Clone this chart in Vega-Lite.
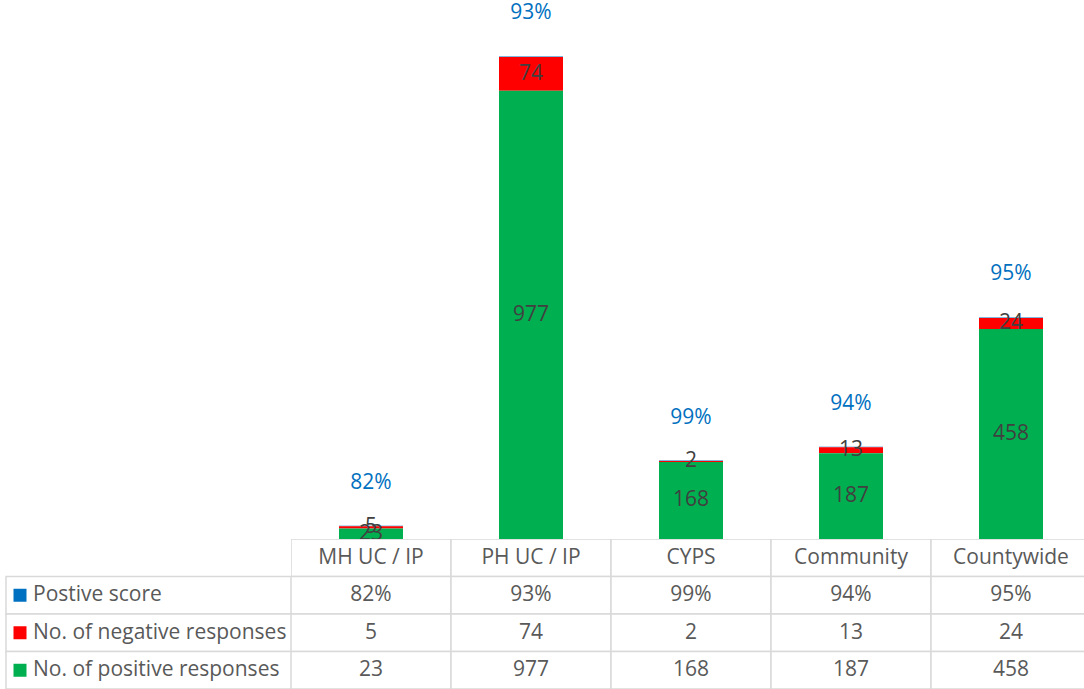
{
  "$schema": "https://vega.github.io/schema/vega-lite/v6.json",
  "padding": {"left": 5, "top": 0, "right": 0, "bottom": 0},
  "background": "white",
  "spacing": 0,
  "bounds": "flush",
  "config": {
    "view": {"stroke": null},
    "font": "Open Sans"
  },
  "datasets": {
    "responses": [
      {"site": "MH UC / IP", "measure": "Postive score", "value": 0.82},
      {"site": "MH UC / IP", "measure": "No. of negative responses", "value": 5},
      {"site": "MH UC / IP", "measure": "No. of positive responses", "value": 23},
      {"site": "PH UC / IP", "measure": "Postive score", "value": 0.93},
      {"site": "PH UC / IP", "measure": "No. of negative responses", "value": 74},
      {"site": "PH UC / IP", "measure": "No. of positive responses", "value": 977},
      {"site": "CYPS", "measure": "Postive score", "value": 0.99},
      {"site": "CYPS", "measure": "No. of negative responses", "value": 2},
      {"site": "CYPS", "measure": "No. of positive responses", "value": 168},
      {"site": "Community", "measure": "Postive score", "value": 0.94},
      {"site": "Community", "measure": "No. of negative responses", "value": 13},
      {"site": "Community", "measure": "No. of positive responses", "value": 187},
      {"site": "Countywide", "measure": "Postive score", "value": 0.95},
      {"site": "Countywide", "measure": "No. of negative responses", "value": 24},
      {"site": "Countywide", "measure": "No. of positive responses", "value": 458}
    ],
    "sites": [
      {"site": "MH UC / IP"},
      {"site": "PH UC / IP"},
      {"site": "CYPS"},
      {"site": "Community"},
      {"site": "Countywide"}
    ],
    "measures": [
      {"measure": "Postive score"},
      {"measure": "No. of negative responses"},
      {"measure": "No. of positive responses"}
    ]
  },
  "resolve": {"scale": {"x": "independent", "y": "independent", "color": "shared"}},
  "columns": 2,
  "concat": [
    {
      "width": 285,
      "height": 539,
      "data": {"values": [{}]},
      "mark": {"type": "text", "text": ""},
      "encoding": {}
    },
    {
      "width": 794,
      "height": 539,
      "data": {"name": "responses"},
      "transform": [
        {"calculate": "indexof(['No. of positive responses', 'No. of negative responses', 'Postive score'], datum.measure)", "as": "stackOrder"},
        {"stack": "value", "groupby": ["site"], "sort": [{"field": "stackOrder", "order": "ascending"}], "as": ["v0", "v1"]},
        {"calculate": "(datum.v0 + datum.v1) / 2", "as": "mid"},
        {"calculate": "datum.measure == 'Postive score' ? format(datum.value, '.0%') : format(datum.value, 'd')", "as": "label"}
      ],
      "encoding": {
        "x": {
          "field": "site",
          "type": "nominal",
          "sort": null,
          "axis": null,
          "scale": {"domain": ["MH UC / IP", "PH UC / IP", "CYPS", "Community", "Countywide"], "paddingInner": 0.6, "paddingOuter": 0.3, "range": [0, 800]}
        }
      },
      "layer": [
        {
          "mark": {"type": "bar"},
          "encoding": {
            "y": {"field": "v0", "type": "quantitative", "axis": null, "scale": {"domain": [0, 1175], "nice": false}},
            "y2": {"field": "v1"},
            "color": {
              "field": "measure",
              "type": "nominal",
              "legend": null,
              "scale": {
                "domain": ["Postive score", "No. of negative responses", "No. of positive responses"],
                "range": ["#0070C0", "#FF0000", "#00B050"]
              }
            }
          }
        },
        {
          "transform": [{"filter": "datum.measure != 'Postive score'"}],
          "mark": {"type": "text", "fontSize": 21, "color": "#404040", "baseline": "middle", "align": "center"},
          "encoding": {
            "y": {"field": "mid", "type": "quantitative"},
            "text": {"field": "label"}
          }
        },
        {
          "transform": [{"filter": "datum.measure == 'Postive score'"}],
          "mark": {"type": "text", "fontSize": 21, "color": "#0070C0", "baseline": "middle", "align": "center", "dy": -43},
          "encoding": {
            "y": {"field": "v1", "type": "quantitative"},
            "text": {"field": "label"}
          }
        }
      ]
    },
    {
      "width": 285,
      "height": 150,
      "data": {"name": "measures"},
      "encoding": {
        "y": {
          "field": "measure",
          "type": "nominal",
          "axis": null,
          "scale": {"domain": ["header", "Postive score", "No. of negative responses", "No. of positive responses"], "paddingInner": 0, "paddingOuter": 0}
        }
      },
      "layer": [
        {
          "mark": {"type": "rect", "fill": "white", "stroke": "#D9D9D9", "strokeWidth": 1.5}
        },
        {
          "mark": {"type": "point", "shape": "square", "filled": true, "size": 169, "opacity": 1},
          "encoding": {
            "x": {"value": 14},
            "color": {"field": "measure", "type": "nominal", "legend": null}
          }
        },
        {
          "mark": {"type": "text", "fontSize": 21, "color": "#595959", "align": "left", "baseline": "middle"},
          "encoding": {
            "x": {"value": 27},
            "text": {"field": "measure"}
          }
        }
      ]
    },
    {
      "width": 794,
      "height": 150,
      "encoding": {
        "x": {
          "field": "site",
          "type": "nominal",
          "axis": null,
          "scale": {"domain": ["MH UC / IP", "PH UC / IP", "CYPS", "Community", "Countywide"], "paddingInner": 0, "paddingOuter": 0, "range": [0, 800]}
        }
      },
      "layer": [
        {
          "data": {"name": "sites"},
          "mark": {"type": "rect", "fill": "white", "stroke": "#D9D9D9", "strokeWidth": 1.5, "clip": true},
          "encoding": {
            "y": {"datum": "header", "type": "nominal", "axis": null, "scale": {"domain": ["header", "Postive score", "No. of negative responses", "No. of positive responses"], "paddingInner": 0, "paddingOuter": 0}}
          }
        },
        {
          "data": {"name": "responses"},
          "mark": {"type": "rect", "fill": "white", "stroke": "#D9D9D9", "strokeWidth": 1.5, "clip": true},
          "encoding": {
            "y": {"field": "measure", "type": "nominal"}
          }
        },
        {
          "data": {"name": "sites"},
          "mark": {"type": "text", "fontSize": 21, "color": "#595959", "align": "center", "baseline": "middle"},
          "encoding": {
            "y": {"datum": "header", "type": "nominal"},
            "text": {"field": "site"}
          }
        },
        {
          "data": {"name": "responses"},
          "transform": [
            {"calculate": "datum.measure == 'Postive score' ? format(datum.value, '.0%') : format(datum.value, 'd')", "as": "label"}
          ],
          "mark": {"type": "text", "fontSize": 21, "color": "#595959", "align": "center", "baseline": "middle"},
          "encoding": {
            "y": {"field": "measure", "type": "nominal"},
            "text": {"field": "label"}
          }
        }
      ]
    }
  ]
}
